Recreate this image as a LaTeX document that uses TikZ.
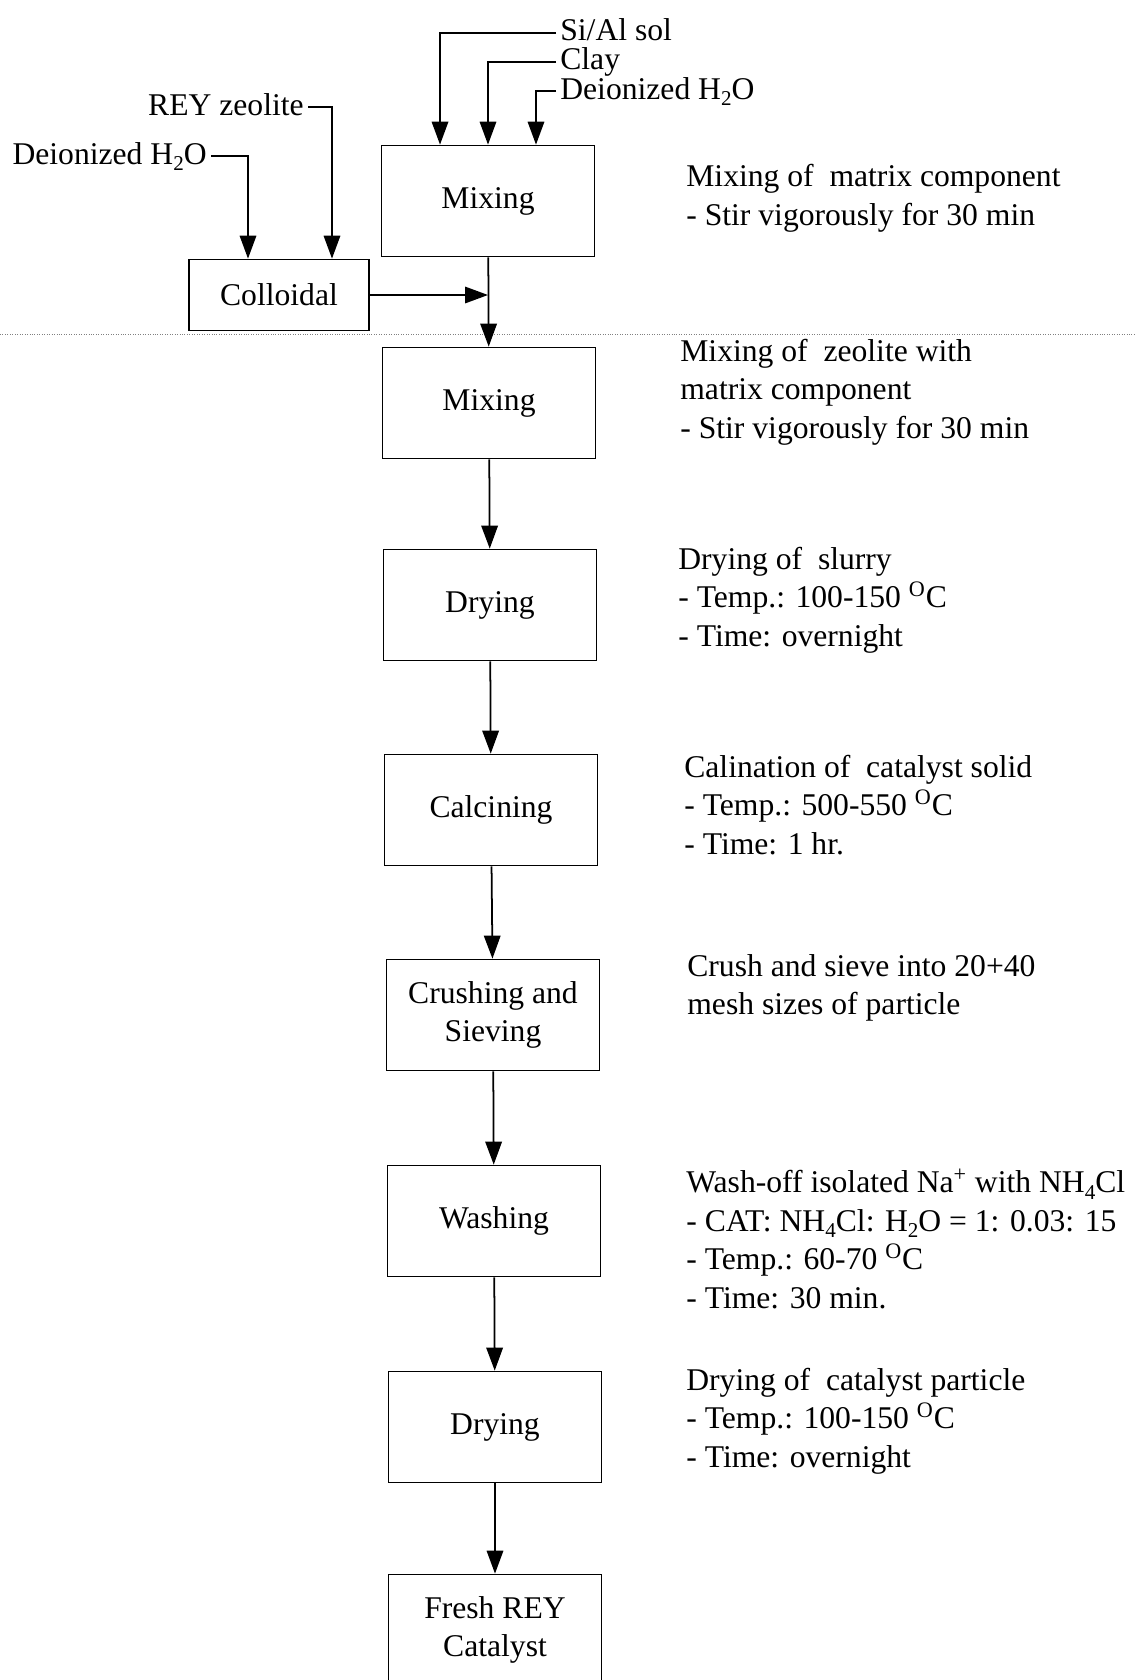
\documentclass[tikz,border=0pt]{standalone}
\usepackage{fontspec}
\setmainfont{Liberation Serif}
\usetikzlibrary{arrows.meta}
\newcommand\lowidx[1]{\raisebox{-0.45ex}{\fontsize{12}{12}\selectfont #1}}

\begin{document}
\begin{tikzpicture}[x=0.02cm,y=-0.02cm,
  every node/.style={font=\fontsize{18}{22}\selectfont},
  stage/.style={draw,line width=1pt,minimum width=4.26cm,minimum height=2.22cm,align=center},
  feed/.style={line width=1pt,-{Triangle[length=0.46cm,width=0.33cm]}},
  note/.style={anchor=west,align=left,inner sep=0pt},
  inlabel/.style={inner xsep=0.08cm,inner ysep=0pt}]
  \clip (0,0) rectangle (1135,1680);
  \draw[densely dotted,gray] (0,334) -- (1135,334);

  % process stages
  \node[stage] (mix1) at (488,201) {Mixing};
  \node[stage,minimum width=3.6cm,minimum height=1.42cm] (colloid) at (279,295) {Colloidal};
  \node[stage] (mix2) at (489,403) {Mixing};
  \node[stage] (dry1) at (490,605) {Drying};
  \node[stage] (calc) at (491,810) {Calcining};
  \node[stage] (crush) at (493,1015) {Crushing and\\Sieving};
  \node[stage] (wash) at (494,1221) {Washing};
  \node[stage] (dry2) at (495,1427) {Drying};
  \node[stage] (fresh) at (495,1630) {Fresh REY\\Catalyst};

  % raw materials
  \node[inlabel,anchor=base west] (sial) at (556,40) {Si/Al sol};
  \node[inlabel,anchor=base west] (clay) at (556,69) {Clay};
  \node[inlabel,anchor=base west] (water1) at (556,99) {Deionized H\lowidx{2}O};
  \node[inlabel,anchor=base east] (rey) at (308,115) {REY zeolite};
  \node[inlabel,anchor=base east] (water2) at (211,164) {Deionized H\lowidx{2}O};

  \draw[feed] ([yshift=0.14cm]sial.base west) -| ([xshift=-0.96cm]mix1.north);
  \draw[feed] ([yshift=0.14cm]clay.base west) -| (mix1.north);
  \draw[feed] ([yshift=0.16cm]water1.base west) -| ([xshift=0.96cm]mix1.north);
  \draw[feed] ([yshift=0.16cm]rey.base east) -| ([xshift=1.06cm]colloid.north);
  \draw[feed] ([yshift=0.16cm]water2.base east) -| ([xshift=-0.62cm]colloid.north);
  \draw[feed] (colloid.east) -- (colloid.east -| mix1.south);

  \draw[feed] (mix1) -- (mix2);
  \draw[feed] (mix2) -- (dry1);
  \draw[feed] (dry1) -- (calc);
  \draw[feed] (calc) -- (crush);
  \draw[feed] (crush) -- (wash);
  \draw[feed] (wash) -- (dry2);
  \draw[feed] (dry2) -- (fresh);

  % conditions
  \node[note] (n1) at (686,198) {Mixing of\ \ matrix component\\- Stir vigorously for 30 min};
  \node[note] (n2) at (680,392) {Mixing of\ \ zeolite with\\matrix component\\- Stir vigorously for 30 min};
  \node[note] (n3) at (678,600) {Drying of\ \ slurry\\- Temp.: 100-150 \textsuperscript{O}C\\- Time: overnight};
  \node[note] (n4) at (684,805) {Calination of\ \ catalyst solid\\- Temp.: 500-550 \textsuperscript{O}C\\- Time: 1 hr.};
  \node[note] (n5) at (687,988) {Crush and sieve into 20+40\\mesh sizes of particle};
  \node[note] (n6) at (686,1239) {Wash-off isolated Na\textsuperscript{+} with NH\lowidx{4}Cl\\- CAT: NH\lowidx{4}Cl: H\lowidx{2}O = 1: 0.03: 15\\- Temp.: 60-70 \textsuperscript{O}C\\- Time: 30 min.};
  \node[note] (n7) at (686,1421) {Drying of\ \ catalyst particle\\- Temp.: 100-150 \textsuperscript{O}C\\- Time: overnight};
\end{tikzpicture}
\end{document}
